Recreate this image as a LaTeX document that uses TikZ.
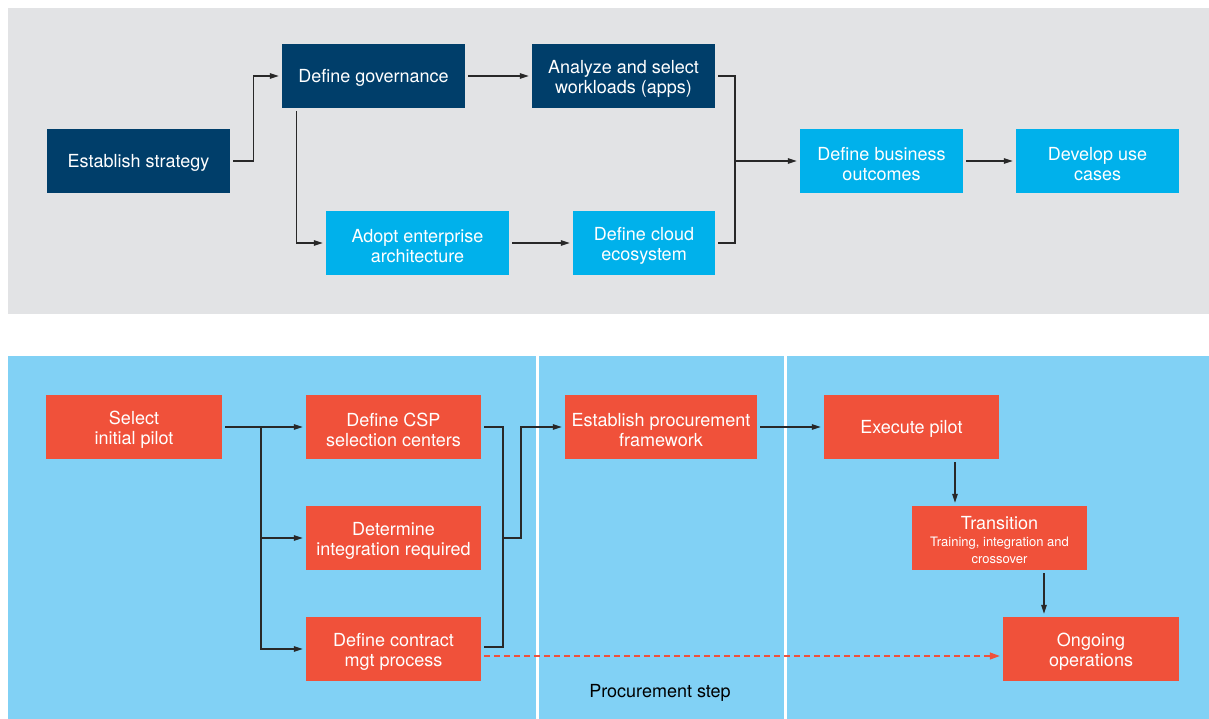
\documentclass[tikz,border=0pt]{standalone}
\usepackage{fontspec}
\setmainfont{TeX Gyre Heros}
\usetikzlibrary{arrows.meta}
\definecolor{navy}{RGB}{0,62,106}
\definecolor{cyanbox}{RGB}{0,177,235}
\definecolor{panelgray}{RGB}{226,227,229}
\definecolor{panelblue}{RGB}{129,209,245}
\definecolor{redbox}{RGB}{240,81,58}
\definecolor{linegray}{RGB}{40,40,40}
\newcommand\hsone{\rule{0pt}{17.5pt}}
\newcommand\hstwo{\rule{0pt}{19.5pt}}
\tikzset{
  box/.style={rectangle, inner sep=0pt, align=center, text=white,
    font=\fontsize{18}{20}\selectfont},
  navybox/.style={box, fill=navy},
  cyanb/.style={box, fill=cyanbox},
  redb/.style={box, fill=redbox},
  conn/.style={draw=linegray, line width=1.3pt, shorten <=3pt},
  arr/.style={conn, -{Triangle[length=9pt,width=5.5pt]}, shorten >=3pt},
  darr/.style={draw=redbox, line width=1.3pt, dash pattern=on 6pt off 4pt, shorten <=3pt, shorten >=3pt,
    -{Triangle[length=10pt,width=7pt,fill=redbox,sep=0pt]}},
}
\begin{document}
\begin{tikzpicture}[x=1pt,y=-1pt]
\useasboundingbox (0,0) rectangle (1209,719);
\fill[white] (0,0) rectangle (1209,719);
% panels
\fill[panelgray] (8,8) rectangle (1209,314);
\fill[panelblue] (8,356) rectangle (1209,719);
\fill[white] (536,356) rectangle (539,719);
\fill[white] (784,356) rectangle (787,719);

% top nodes
\node[navybox, minimum width=183pt, minimum height=64pt] (es) at (138.5,161) {\hsone Establish strategy};
\node[navybox, minimum width=183pt, minimum height=64pt] (gov) at (373.5,76) {\hsone Define governance};
\node[navybox, minimum width=183pt, minimum height=64pt] (ana) at (623.5,76) {\hstwo Analyze and select\\workloads (apps)};
\node[cyanb, minimum width=183pt, minimum height=64pt] (adopt) at (417.5,243) {\hstwo Adopt enterprise\\architecture};
\node[cyanb, minimum width=142pt, minimum height=64pt] (cloud) at (644,243) {\hstwo Define cloud\\ecosystem};
\node[cyanb, minimum width=163pt, minimum height=64pt] (bus) at (881.5,161) {\hstwo Define business\\outcomes};
\node[cyanb, minimum width=163pt, minimum height=64pt] (dev) at (1097.5,161) {\hstwo Develop use\\cases};

% top connectors
\draw[arr] (es.east) -- ++(23,0) |- (gov.west);
\draw[arr] (gov.east) -- (ana.west);
\draw[arr] ([xshift=15pt]gov.south west) |- (adopt.west);
\draw[arr] (adopt.east) -- (cloud.west);
\coordinate (m1) at (735,161);
\draw[conn] (ana.east) -| (m1);
\draw[conn] (cloud.east) -| (m1);
\draw[arr, shorten <=0pt] (m1) -- (bus.west);
\draw[arr] (bus.east) -- (dev.west);

% bottom nodes
\node[redb, minimum width=176pt, minimum height=64pt] (sel) at (134,427) {\hstwo Select\\initial pilot};
\node[redb, minimum width=175pt, minimum height=64pt] (csp) at (393.5,427) {\hstwo Define CSP\\selection centers};
\node[redb, minimum width=175pt, minimum height=64pt] (det) at (393.5,538) {\hstwo Determine\\integration required};
\node[redb, minimum width=175pt, minimum height=64pt] (con) at (393.5,649) {\hstwo Define contract\\mgt process};
\node[redb, minimum width=192pt, minimum height=64pt] (proc) at (661,427) {\hstwo Establish procurement\\framework};
\node[redb, minimum width=175pt, minimum height=64pt] (exe) at (911.5,427) {\hsone Execute pilot};
\node[redb, minimum width=175pt, minimum height=64pt] (tra) at (999.5,538) {\hsone Transition\\[-3pt]{\fontsize{13}{16}\selectfont Training, integration and}\\[-3pt]{\fontsize{13}{16}\selectfont crossover}};
\node[redb, minimum width=176pt, minimum height=64pt] (ong) at (1091,649) {\hstwo Ongoing\\operations};
\node[font=\fontsize{18}{20}\selectfont, text=black, inner sep=0pt] (lbl) at (660,693) {Procurement step};

% bottom connectors
\coordinate (sp) at (261,427);
\draw[arr] (sel.east) -- (csp.west);
\draw[arr, shorten <=0pt] (sp) |- (con.west);
\draw[arr, shorten <=0pt] (sp |- det.west) -- (det.west);
\coordinate (m2) at (503,538);
\draw[conn] (csp.east) -| (m2);
\draw[conn] ([yshift=2pt]con.east) -| (m2);
\draw[arr, shorten <=0pt] (m2) -- ++(18,0) |- (proc.west);
\draw[arr] (proc.east) -- (exe.west);
\draw[arr] ([xshift=43.5pt]exe.south) -- ([xshift=43.5pt]exe.south |- tra.north);
\draw[arr] ([xshift=44.5pt]tra.south) -- ([xshift=44.5pt]tra.south |- ong.north);
\draw[darr] ([yshift=-7pt]con.east) -- ([yshift=-7pt]ong.west);
\end{tikzpicture}
\end{document}
